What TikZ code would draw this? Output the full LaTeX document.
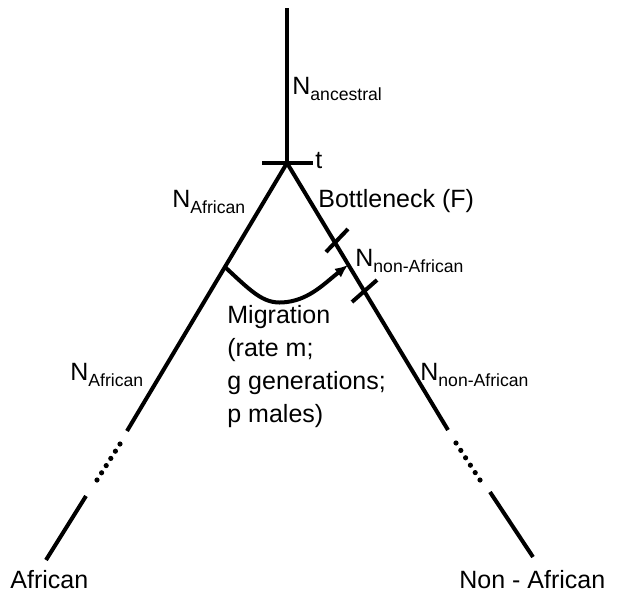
\documentclass[tikz,border=0pt]{standalone}
\usepackage{fontspec}
\setmainfont{Liberation Sans}
\usetikzlibrary{arrows.meta,calc}
\newcommand{\popsub}[1]{\raisebox{-3pt}{\fontsize{8.8}{10}\selectfont #1}}
\begin{document}
\begin{tikzpicture}[x=0.5pt,y=-0.5pt,
	branch/.style={line width=2pt},
	poplabel/.style={anchor=base west,inner sep=0pt,font=\fontsize{12.5}{16.5}\selectfont}]
	    \useasboundingbox (0,0) rectangle (617,595);
	    
	    \coordinate (anc) at (287,8);
	    \coordinate (split) at (287,163);
	    \coordinate (tw) at (262,163);
	    \coordinate (te) at (313,163);
	    
	    \coordinate (lup) at (127,431);
	    \coordinate (ldot1) at (120,444);
	    \coordinate (ldot2) at (97,480);
	    \coordinate (llow) at (86,496);
	    \coordinate (lend) at (46,560);
	    
	    \coordinate (rup) at (448,430);
	    \coordinate (rdot1) at (456,443);
	    \coordinate (rdot2) at (480,480);
	    \coordinate (rlow) at (490,492);
	    \coordinate (rend) at (533,557);
	    
	    \coordinate (bn1s) at (326,252);
	    \coordinate (bn1e) at (348,229);
	    \coordinate (bn2s) at (352,302);
	    \coordinate (bn2e) at (377,280);
	    
	    \coordinate (mig) at (225,267);
	    \coordinate (migtip) at (348,265);
	    
	    \draw [branch] (anc) -- (split);
	    \draw [branch] (tw) -- (te);
	    \draw [branch] (lup) -- (split) -- (rup);
	    \draw [branch] (llow) -- (lend);
	    \draw [branch] (rlow) -- (rend);
	    \foreach \i in {0,...,5} {
	        \fill ($(ldot1)!\i/5!(ldot2)$) circle (2.6);
	        \fill ($(rdot1)!\i/5!(rdot2)$) circle (2.6);
	    }
	    
	    % bottleneck
	    \draw [branch] (bn1s) -- (bn1e);
	    \draw [branch] (bn2s) -- (bn2e);
	    
	    % migration
	    \draw [branch,-{Latex[length=6.5pt,width=5.5pt]}] (mig) .. controls (255,295) and (265,305) .. (287,302) .. controls (310,299) and (325,283) .. (migtip);
	    
	    \node [poplabel] (nanc) at (292,94) {N\popsub{ancestral}};
	    \node [poplabel] (tlab) at (315,168) {t};
	    \node [poplabel] (nafr1) at (172,207) {N\popsub{African}};
	    \node [poplabel] (bneck) at (318,207) {Bottleneck (F)};
	    \node [poplabel] (nnon1) at (355,266) {N\popsub{non-African}};
	    \node [poplabel,anchor=north west,align=left] (migr) at (227,305) {Migration\\(rate m;\\g generations;\\p males)};
	    \node [poplabel] (nafr2) at (70,380) {N\popsub{African}};
	    \node [poplabel] (nnon2) at (420,380) {N\popsub{non-African}};
	    \node [poplabel] (afr) at (10,588) {African};
	    \node [poplabel] (nonafr) at (459,588) {Non - African};
	    
\end{tikzpicture}
\end{document}
